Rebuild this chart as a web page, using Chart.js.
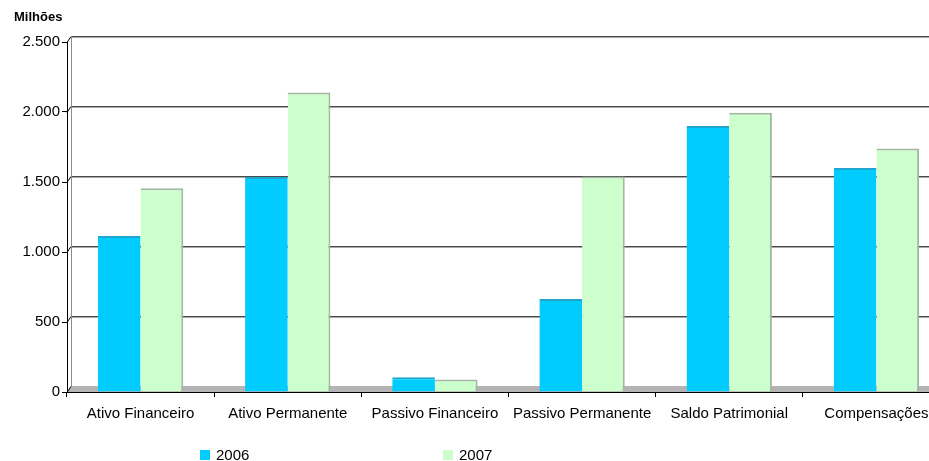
<!DOCTYPE html>
<html lang="pt-BR">
<head>
<meta charset="utf-8">
<title>Balanço patrimonial 2006 x 2007</title>
<script src="https://cdn.jsdelivr.net/npm/chart.js@4.4.1/dist/chart.umd.min.js"></script>
<style>
  html, body { margin: 0; padding: 0; background: #fff; overflow: hidden; }
  #wrap { position: relative; width: 950px; height: 461px; }
  #unit {
    position: absolute; left: 14px; top: 9px;
    font: bold 13px "Liberation Sans", Arial, sans-serif; color: #000;
  }
</style>
</head>
<body>
<div id="wrap">
  <canvas id="chart" width="950" height="461"></canvas>
  <div id="unit">Milhões</div>
</div>
<script>
  // categorias e valores (em milhões)
  const categorias = ['Ativo Financeiro', 'Ativo Permanente', 'Passivo Financeiro',
    'Passivo Permanente', 'Saldo Patrimonial', 'Compensações'];
  const valores2006 = [1115, 1535, 105, 665, 1900, 1600];
  const valores2007 = [1455, 2140, 90, 1540, 1995, 1740];
  const ticksY = [0, 500, 1000, 1500, 2000, 2500];

  const FONT = '"Liberation Sans", Arial, sans-serif';
  const DX = 4, DY = 6; // deslocamento da parede do fundo

  function formatMilhar(v) {
    return String(v).replace(/\B(?=(\d{3})+(?!\d))/g, '.');
  }

  // parede, grade e piso em pseudo 3D
  const paredes = {
    id: 'paredes',
    beforeDatasetsDraw(chart) {
      const { ctx, chartArea: a, scales } = chart;
      const y = scales.y;
      ctx.save();
      // piso
      ctx.fillStyle = '#b4b4b4';
      ctx.beginPath();
      ctx.moveTo(a.left, a.bottom);
      ctx.lineTo(a.left + DX, a.bottom - DY);
      ctx.lineTo(a.right + DX, a.bottom - DY);
      ctx.lineTo(a.right, a.bottom);
      ctx.closePath();
      ctx.fill();
      // linhas de grade na parede do fundo
      ticksY.forEach(v => {
        const py = Math.round(y.getPixelForValue(v)) + 0.5;
        if (v > 0) {
          ctx.strokeStyle = '#a8a8a8';
          ctx.beginPath();
          ctx.moveTo(a.left + DX, py - DY + 1);
          ctx.lineTo(a.right + DX, py - DY + 1);
          ctx.stroke();
          ctx.strokeStyle = '#4a4a4a';
          ctx.beginPath();
          ctx.moveTo(a.left + DX, py - DY);
          ctx.lineTo(a.right + DX, py - DY);
          ctx.stroke();
        }
        // ligação da marca do eixo com a parede
        ctx.strokeStyle = '#000';
        ctx.beginPath();
        ctx.moveTo(a.left, py);
        ctx.lineTo(a.left + DX, py - DY);
        ctx.stroke();
      });
      // parede lateral
      ctx.strokeStyle = '#8c8c8c';
      ctx.beginPath();
      ctx.moveTo(a.left + DX + 0.5, a.top - DY);
      ctx.lineTo(a.left + DX + 0.5, a.bottom - DY);
      ctx.stroke();
      ctx.restore();
    }
  };

  // legenda desenhada na parte de baixo
  const legenda = {
    id: 'legenda',
    afterDraw(chart) {
      const { ctx } = chart;
      const posX = [200, 443];
      ctx.save();
      ctx.font = '15px ' + FONT;
      ctx.textBaseline = 'middle';
      chart.data.datasets.forEach((ds, i) => {
        ctx.fillStyle = ds.backgroundColor;
        ctx.fillRect(posX[i], 450, 10, 10);
        ctx.fillStyle = '#000';
        ctx.fillText(ds.label, posX[i] + 16, 456);
      });
      ctx.restore();
    }
  };

  new Chart(document.getElementById('chart'), {
    type: 'bar',
    data: {
      labels: categorias,
      datasets: [
        {
          label: '2006',
          data: valores2006,
          backgroundColor: '#00ccff',
          borderColor: '#1ea6cf',
          borderWidth: { top: 2, right: 0, left: 0, bottom: 0 },
          barPercentage: 1,
          categoryPercentage: 0.58
        },
        {
          label: '2007',
          data: valores2007,
          backgroundColor: '#ccffcc',
          borderColor: '#a3b8a3',
          borderWidth: { top: 2, right: 2, left: 0, bottom: 0 },
          barPercentage: 1,
          categoryPercentage: 0.58
        }
      ]
    },
    plugins: [paredes, legenda],
    options: {
      responsive: false,
      animation: false,
      layout: { padding: { top: 42, right: 0, left: 0, bottom: 0 } },
      plugins: {
        legend: { display: false },
        tooltip: { enabled: false }
      },
      scales: {
        x: {
          grid: {
            offset: true,
            drawOnChartArea: false,
            color: '#000',
            tickLength: 5
          },
          border: { color: '#000' },
          ticks: {
            color: '#000',
            font: { family: FONT, size: 15 },
            padding: 8,
            maxRotation: 0,
            autoSkip: false
          },
          afterFit(scale) { scale.height = 69; }
        },
        y: {
          min: 0,
          max: 2500,
          afterBuildTicks(scale) {
            scale.ticks = ticksY.map(v => ({ value: v }));
          },
          grid: {
            drawOnChartArea: false,
            color: '#000',
            tickLength: 5
          },
          border: { color: '#000' },
          ticks: {
            color: '#000',
            font: { family: FONT, size: 15 },
            padding: 2,
            callback: v => formatMilhar(v)
          },
          afterFit(scale) { scale.width = 67; }
        }
      }
    }
  });
</script>
</body>
</html>
